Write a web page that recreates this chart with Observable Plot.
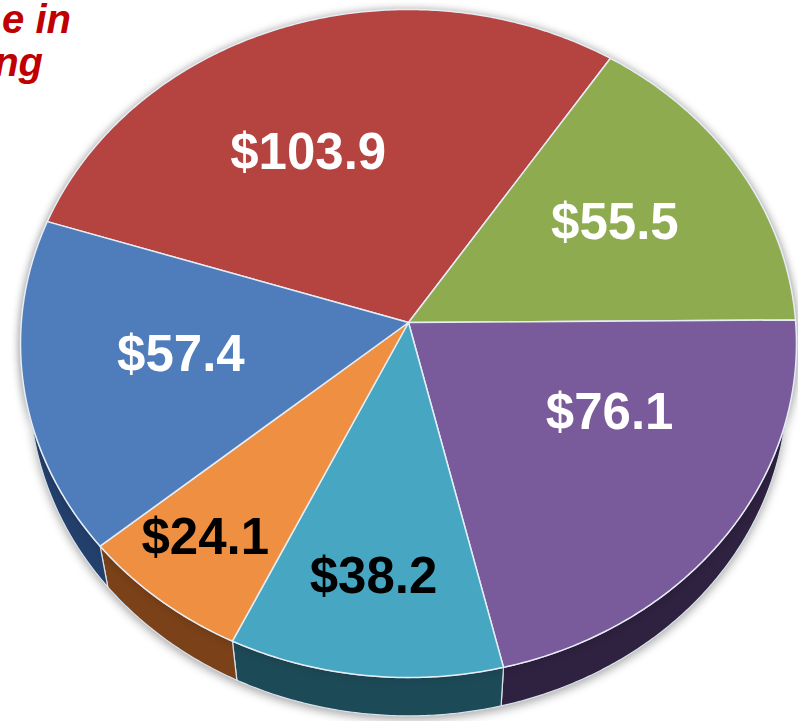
<!DOCTYPE html>
<html><head><meta charset="utf-8">
<script src="https://cdn.jsdelivr.net/npm/d3@7"></script>
<script src="https://cdn.jsdelivr.net/npm/@observablehq/plot@0.6"></script>
<style>
body{margin:0;background:#fff;}
#wrap{position:relative;width:798px;height:721px;overflow:hidden;background:#fff;}
#wrap svg{position:absolute;left:0;top:0;}
.title{position:absolute;font-family:"Liberation Sans",Arial,sans-serif;font-weight:bold;font-style:italic;font-size:40px;color:#c00000;white-space:nowrap;text-align:right;line-height:1;z-index:2;}
</style></head><body>
<div id="wrap">
  <div class="title" style="right:727px;top:-1px;">e in</div>
  <div class="title" style="right:755px;top:42px;">ng</div>
</div>
<script>
// Data (clockwise from the top-left red slice)
const labels = ["$103.9", "$55.5", "$76.1", "$38.2", "$24.1", "$57.4"];
const values = [103.9, 55.5, 76.1, 38.2, 24.1, 57.4];
const topColors = ["#b5433f", "#8fab4f", "#795a9b", "#47a6c2", "#ee8f42", "#4f7cbb"];
const sideColors = ["#6e2624", "#55672c", "#2f2140", "#1d4a57", "#7b4118", "#23406c"];
const labelColors = ["#ffffff", "#ffffff", "#ffffff", "#000000", "#000000", "#ffffff"];

// Perspective view of a tilted pie disc
const W = 798, H = 721;
const deg = Math.PI / 180;
const P = {ox: 408, oy: 322, A: 387.2, B: 332.7, u: 0.0629, rd: 0.123, sinP: 0.859, cosP: 0.511};
const thick = 0.23; // disc thickness relative to radius
function proj(th, r = 1, h = 0) {
  const x = r * Math.sin(th), y = r * Math.cos(th);
  const den = 1 + P.u * y + P.rd * h * P.sinP;
  return [P.ox + P.A * x / den, P.oy - (P.B * y - P.A * h * P.cosP) / den];
}

const arcs = d3.pie().sort(null).startAngle(-72 * deg).endAngle(288 * deg)(values);

const faces = [], walls = [];
arcs.forEach((a, i) => {
  const n = Math.max(2, Math.ceil((a.endAngle - a.startAngle) / (0.5 * deg)));
  const ts = d3.range(n + 1).map(k => a.startAngle + (a.endAngle - a.startAngle) * k / n);
  const [ax, ay] = proj(0, 0);
  faces.push({i, x: ax, y: ay, c: topColors[i]});
  ts.forEach(t => { const [x, y] = proj(t); faces.push({i, x, y, c: topColors[i]}); });
  ts.forEach(t => { const [x, y] = proj(t); walls.push({i, x, y, c: sideColors[i]}); });
  ts.slice().reverse().forEach(t => { const [x, y] = proj(t, 1, thick); walls.push({i, x, y, c: sideColors[i]}); });
});

// label placement: along the mid-angle, small slices further out, with best-fit adjustments
const nudge = [[-26, 12], [6, -6], [14, -36], [-2, -13], [-14, 4], [2, -6]];
const labelData = arcs.map((a, i) => {
  const m = (a.startAngle + a.endAngle) / 2;
  const r = (a.endAngle - a.startAngle) < 45 * deg ? 0.77 : 0.6;
  const [x, y] = proj(m, r);
  return {label: labels[i], x: x + nudge[i][0], y: y + nudge[i][1], c: labelColors[i]};
});

const chart = Plot.plot({
  width: W, height: H, margin: 0,
  x: {domain: [0, W], range: [0, W], axis: null},
  y: {domain: [0, H], range: [0, H], axis: null},
  color: {type: "identity"},
  style: {background: "transparent", overflow: "visible"},
  marks: [
    Plot.line(walls, {x: "x", y: "y", z: "i", fill: "c", stroke: "#d9e2ec", strokeWidth: 1.2, curve: "linear-closed"}),
    Plot.line(faces, {x: "x", y: "y", z: "i", fill: "c", stroke: "#e6edf5", strokeWidth: 1.5, strokeLinejoin: "round", curve: "linear-closed"}),
    Plot.text(labelData, {x: "x", y: "y", text: "label", fill: "c", fontSize: 51, fontWeight: "bold", fontFamily: "Liberation Sans, Arial, sans-serif", textAnchor: "middle", lineAnchor: "middle"})
  ]
});
const groups = chart.querySelectorAll('g[aria-label="line"]');
if (groups[0]) groups[0].style.filter = "drop-shadow(0px 3px 5px rgba(0,0,0,0.35))";
if (groups[1]) groups[1].style.filter = "drop-shadow(0px 0px 4px rgba(0,0,0,0.18))";
document.getElementById("wrap").prepend(chart);
</script>
</body></html>
